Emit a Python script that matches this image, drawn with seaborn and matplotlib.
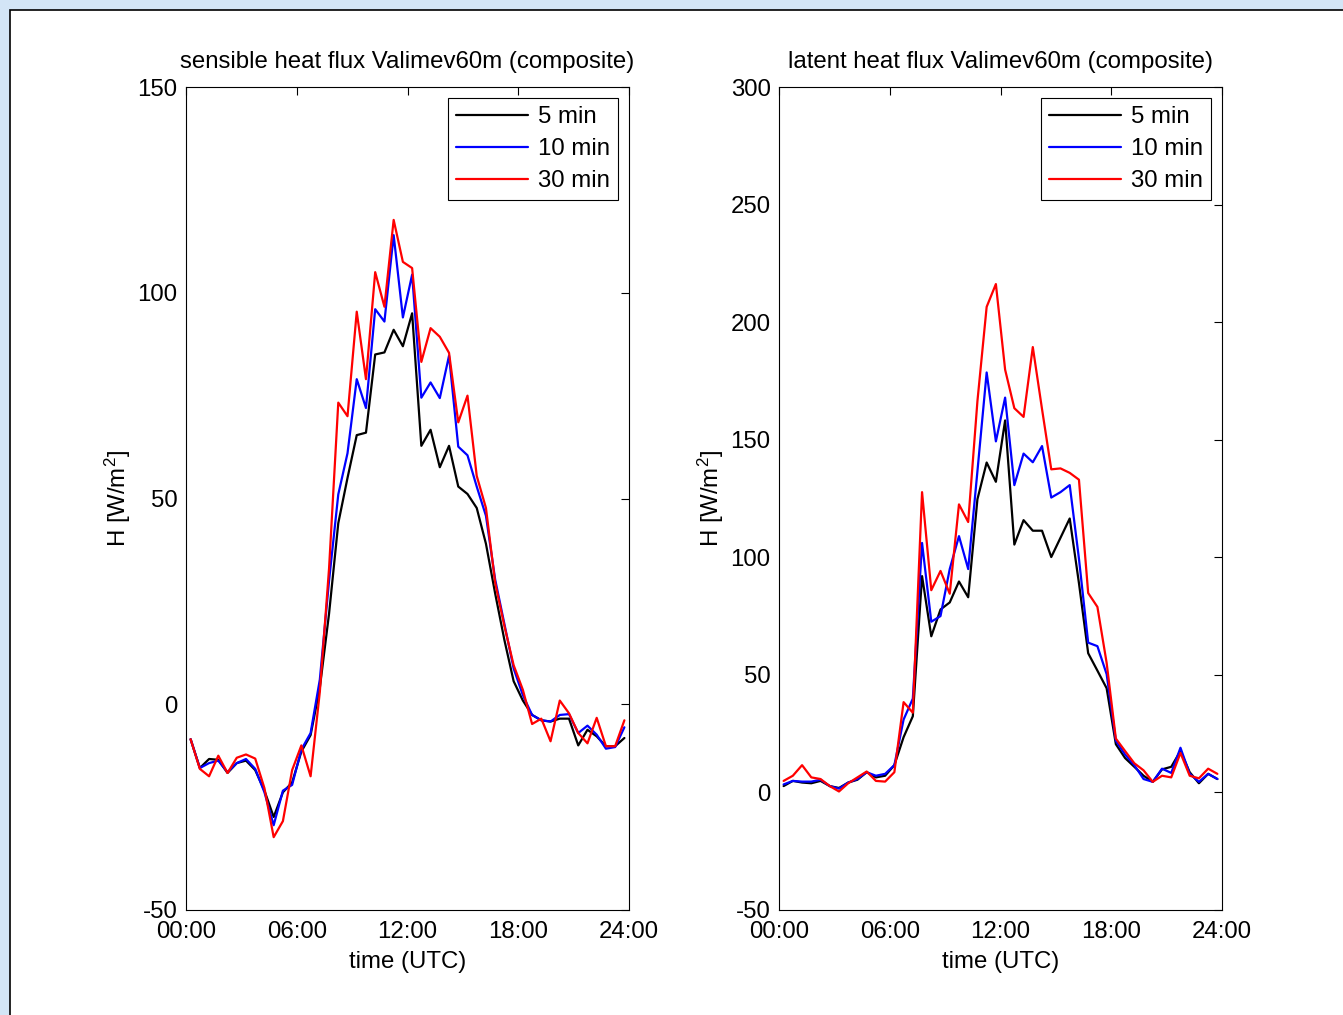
import numpy as np
import pandas as pd
import matplotlib
matplotlib.use('Agg')
import matplotlib.pyplot as plt
import seaborn as sns
from matplotlib.patches import Rectangle

# Composite half-hourly means (centred at hh:15 / hh:45)
horas = np.arange(0.25, 24, 0.5)
medias = ['5 min', '10 min', '30 min']
cores = ['#000000', '#0000ff', '#ff0000']
marcas_x = [0, 6, 12, 18, 24]
rotulos_x = ['00:00', '06:00', '12:00', '18:00', '24:00']

# sensible heat flux [W/m2]
sens_5 = [-8.5, -15.5, -13.3, -13.5, -16.7, -14.3, -13.7, -16.0, -21.0, -27.4, -21.4, -19.0,
          -11.5, -7.5, 4.0, 22.0, 44.0, 55.0, 65.4, 66.0, 85.0, 85.5, 91.0, 87.0,
          95.0, 62.8, 66.7, 57.6, 62.8, 52.9, 51.1, 47.7, 39.0, 26.9, 15.6, 5.6,
          0.9, -2.6, -3.9, -4.2, -3.5, -3.5, -10.0, -6.2, -7.8, -10.2, -10.2, -8.2]
sens_10 = [-8.5, -15.5, -14.3, -13.7, -16.5, -14.3, -13.3, -15.7, -21.4, -29.4, -21.0, -19.6,
           -11.0, -7.0, 6.0, 30.0, 51.0, 61.0, 79.0, 72.0, 96.0, 93.0, 114.0, 94.0,
           104.4, 74.5, 78.2, 74.4, 84.7, 62.6, 60.5, 52.9, 45.8, 30.3, 19.5, 8.7,
           2.2, -2.6, -3.9, -4.2, -2.6, -2.4, -7.0, -5.2, -7.4, -10.8, -10.4, -5.6]
sens_30 = [-8.5, -15.7, -17.5, -12.5, -16.7, -13.0, -12.2, -13.2, -20.4, -32.3, -28.4, -16.0,
           -10.0, -17.5, 3.0, 33.0, 73.3, 70.0, 95.4, 79.0, 105.0, 96.6, 117.7, 107.5,
           106.0, 83.2, 91.4, 89.3, 85.4, 68.5, 75.0, 55.5, 47.7, 29.5, 19.0, 9.5,
           3.5, -4.8, -3.5, -9.0, 0.9, -2.2, -7.0, -9.5, -3.3, -10.2, -10.2, -3.9]

# latent heat flux [W/m2]
lat_5 = [2.7, 4.9, 4.2, 3.9, 4.9, 2.7, 1.9, 4.2, 5.4, 8.6, 6.4, 7.1,
         11.6, 23.5, 32.4, 92.0, 66.4, 77.8, 80.8, 89.7, 83.0, 124.7, 140.3, 132.1,
         158.2, 105.4, 115.8, 111.3, 111.3, 100.1, 108.3, 116.5, 89.0, 59.2, 51.8, 44.3,
         20.5, 14.6, 10.9, 7.1, 4.5, 9.8, 10.9, 17.6, 8.6, 3.9, 7.9, 5.7]
lat_10 = [3.4, 4.9, 4.6, 4.6, 5.4, 2.7, 1.6, 4.2, 5.7, 8.6, 7.1, 7.9,
          11.6, 31.0, 39.9, 106.1, 72.6, 75.0, 95.0, 109.0, 95.0, 136.6, 178.6, 149.3,
          167.9, 130.7, 144.1, 140.4, 147.3, 125.4, 127.7, 130.7, 99.4, 63.7, 62.2, 50.3,
          22.0, 16.1, 11.6, 5.7, 4.5, 10.1, 8.3, 19.0, 7.9, 4.5, 7.9, 5.7]
lat_30 = [4.9, 7.1, 11.6, 6.4, 5.7, 2.7, 0.4, 3.9, 6.4, 8.9, 4.9, 4.6,
          8.6, 38.4, 33.9, 127.7, 86.0, 94.2, 84.5, 122.5, 115.0, 166.4, 206.5, 216.2,
          179.8, 163.4, 159.7, 189.4, 163.0, 137.4, 137.8, 135.9, 133.0, 84.8, 78.9, 55.1,
          22.9, 17.6, 12.4, 9.4, 4.5, 7.1, 6.4, 16.8, 7.1, 6.0, 10.1, 7.9]


def tabela(series):
    return pd.DataFrame({
        'hora': np.tile(horas, len(series)),
        'valor': np.concatenate([np.asarray(s) for s in series]),
        'media': np.repeat(medias, len(horas)),
    })


sns.set_theme(style='white')
plt.rcParams['font.family'] = ['Liberation Sans', 'DejaVu Sans']
plt.rcParams['mathtext.fontset'] = 'custom'
plt.rcParams['mathtext.rm'] = 'Liberation Sans'
plt.rcParams['mathtext.it'] = 'Liberation Sans'
plt.rcParams['axes.unicode_minus'] = False
plt.rcParams['text.color'] = 'black'
plt.rcParams['axes.labelcolor'] = 'black'

FS = 17.3
W, H = 1343, 1015
fig = plt.figure(figsize=(W / 100, H / 100), dpi=100)
fig.patch.set_facecolor('#d3e5f6')
fig.add_artist(Rectangle((10 / W, -0.02), 1.05, 1 - 10 / H + 0.02, transform=fig.transFigure,
                         facecolor='white', edgecolor='black', linewidth=1.2, zorder=0))

paineis = [
    (186, 'sensible heat flux Valimev60m (composite)', [sens_5, sens_10, sens_30], (-50, 150), 50),
    (779, 'latent heat flux Valimev60m (composite)', [lat_5, lat_10, lat_30], (-50, 300), 50),
]

for esq, titulo, series, ylim, passo in paineis:
    ax = fig.add_axes([esq / W, 105 / H, 443 / W, 823 / H])
    ax.set_facecolor('white')
    sns.lineplot(data=tabela(series), x='hora', y='valor', hue='media', hue_order=medias,
                 palette=cores, linewidth=1.6, ax=ax)
    ax.set_xlim(0, 24)
    ax.set_ylim(*ylim)
    ax.set_xticks(marcas_x)
    ax.set_xticklabels(rotulos_x)
    ax.set_yticks(np.arange(ylim[0], ylim[1] + 1, passo))
    ax.tick_params(direction='in', length=6, width=0.8, top=True, right=True,
                   labelsize=FS, colors='black')
    ax.tick_params(axis='x', pad=8)
    ax.tick_params(axis='y', pad=6)
    for sp in ax.spines.values():
        sp.set_color('black')
        sp.set_linewidth(0.8)
    ax.set_title(titulo, fontsize=FS, pad=14, color='black')
    ax.set_xlabel('time (UTC)', fontsize=FS, labelpad=6, color='black')
    ax.set_ylabel('H [W/m$^2$]', fontsize=FS, labelpad=3, color='black')
    leg = ax.legend(loc='upper right', title=None, fontsize=FS, frameon=True, fancybox=False,
                    edgecolor='black', framealpha=1, handlelength=3.0, handletextpad=0.4,
                    labelspacing=0.41, borderaxespad=0.45, borderpad=0.35)
    leg.get_frame().set_linewidth(0.8)
    for txt in leg.get_texts():
        txt.set_color('black')
    for ln in leg.get_lines():
        ln.set_linewidth(1.6)

fig.savefig('out.png', dpi=100, facecolor=fig.get_facecolor())
